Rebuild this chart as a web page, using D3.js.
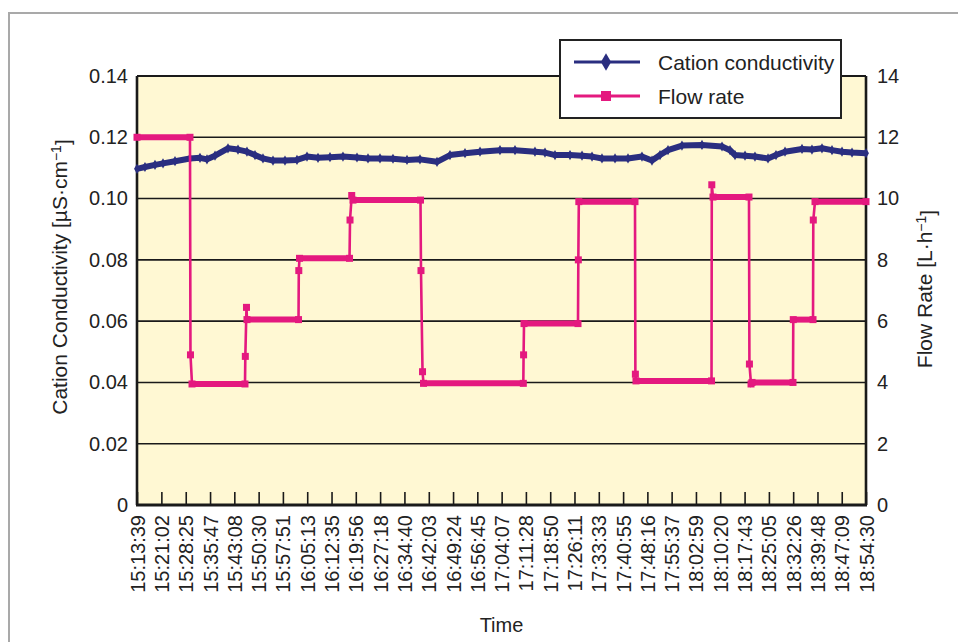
<!DOCTYPE html>
<html>
<head>
<meta charset="utf-8">
<script src="https://cdn.jsdelivr.net/npm/d3@7"></script>
<style>
  body { margin: 0; background: #fff; }
  svg { display: block; font-family: "Liberation Sans", Arial, sans-serif; }
</style>
</head>
<body>
<div id="chart"></div>
<script>
// Time axis labels (category ticks)
var tickLabels = ["15:13:39","15:21:02","15:28:25","15:35:47","15:43:08","15:50:30","15:57:51",
  "16:05:13","16:12:35","16:19:56","16:27:18","16:34:40","16:42:03","16:49:24","16:56:45",
  "17:04:07","17:11:28","17:18:50","17:26:11","17:33:33","17:40:55","17:48:16","17:55:37",
  "18:02:59","18:10:20","18:17:43","18:25:05","18:32:26","18:39:48","18:47:09","18:54:30"];

var condTicks = [0, 0.02, 0.04, 0.06, 0.08, 0.10, 0.12, 0.14];
var flowTicks = [0, 2, 4, 6, 8, 10, 12, 14];

// Cation conductivity [uS/cm]
var condTimes = ["15:13:39","15:16:04","15:19:06","15:21:32","15:25:10","15:29:42","15:32:44","15:34:51",
  "15:37:17","15:41:13","15:44:15","15:46:58","15:49:24","15:51:49","15:54:51","15:58:29","16:02:07",
  "16:05:09","16:08:29","16:12:07","16:16:03","16:20:18","16:23:38","16:27:16","16:31:12","16:35:27",
  "16:39:23","16:44:32","16:48:28","16:53:01","16:57:34","17:03:37","17:08:10","17:14:13","17:17:15",
  "17:20:17","17:24:50","17:28:28","17:31:30","17:34:31","17:38:28","17:42:24","17:46:38","17:49:40",
  "17:52:06","17:54:31","17:58:45","18:04:49","18:10:53","18:13:18","18:14:49","18:17:51","18:20:52",
  "18:24:49","18:27:14","18:29:58","18:35:07","18:38:08","18:41:10","18:44:12","18:47:14","18:50:16","18:54:30"];
var condValues = [0.1097,0.1103,0.1110,0.1115,0.1122,0.1131,0.1133,0.1128,
  0.1140,0.1164,0.1160,0.1153,0.1142,0.1131,0.1124,0.1124,0.1126,
  0.1137,0.1133,0.1135,0.1137,0.1134,0.1131,0.1131,0.1130,0.1126,
  0.1128,0.1120,0.1142,0.1148,0.1153,0.1158,0.1158,0.1153,0.1150,
  0.1142,0.1142,0.1140,0.1137,0.1131,0.1131,0.1131,0.1137,0.1124,
  0.1142,0.1158,0.1173,0.1175,0.1170,0.1158,0.1142,0.1140,0.1137,
  0.1131,0.1142,0.1153,0.1162,0.1160,0.1164,0.1158,0.1153,0.1150,0.1148];

// Flow rate [L/h]
var flowTimes = ["15:13:39","15:29:42","15:29:51","15:30:19","15:46:22","15:46:28","15:46:49","15:46:58",
  "16:02:35","16:02:40","16:02:53","16:18:02","16:18:11","16:18:42","16:19:05","16:39:32","16:39:41",
  "16:40:09","16:40:27","17:10:41","17:10:46","17:10:54","17:27:15","17:27:21","17:27:30","17:44:31",
  "17:44:38","17:44:49","18:07:42","18:07:47","18:08:09","18:19:03","18:19:11","18:19:40","18:19:58",
  "18:32:23","18:32:28","18:38:27","18:38:32","18:39:03","18:54:30"];
var flowValues = [12.0,12.0,4.9,3.95,3.95,4.85,6.45,6.05,
  6.05,7.65,8.05,8.05,9.3,10.1,9.95,9.95,7.65,
  4.35,3.97,3.97,4.9,5.92,5.92,8.0,9.9,9.9,
  4.27,4.05,4.05,10.45,10.05,10.05,4.6,3.95,4.0,
  4.0,6.05,6.05,9.3,9.9,9.9];

var legendNames = ["Cation conductivity", "Flow rate"];

var cfg = {
  width: 958, height: 642,
  left: 137, right: 866, top: 76, bottom: 505,
  navy: "#2a2e80",
  pink: "#e4197f",
  bg: "#fff8d3",
  font: 20
};

var parse = d3.timeParse("%H:%M:%S");
var tickTimes = tickLabels.map(parse);
var cond = condTimes.map(function(t, i) { return {t: parse(t), v: condValues[i]}; });
var flow = flowTimes.map(function(t, i) { return {t: parse(t), v: flowValues[i]}; });

var x = d3.scaleTime().domain([tickTimes[0], tickTimes[tickTimes.length - 1]]).range([cfg.left, cfg.right]);
var yC = d3.scaleLinear().domain([0, 0.14]).range([cfg.bottom, cfg.top]);
var yF = d3.scaleLinear().domain([0, 14]).range([cfg.bottom, cfg.top]);

var svg = d3.select("#chart").append("svg")
  .attr("width", cfg.width).attr("height", cfg.height);

// outer grey frame
svg.append("rect")
  .attr("x", 9).attr("y", 13).attr("width", 1000).attr("height", 700)
  .attr("fill", "none").attr("stroke", "#a9a9a9").attr("stroke-width", 2);

// plot background
svg.append("rect")
  .attr("x", cfg.left).attr("y", cfg.top)
  .attr("width", cfg.right - cfg.left).attr("height", cfg.bottom - cfg.top)
  .attr("fill", cfg.bg);

// grid lines
svg.append("g").selectAll("line")
  .data(condTicks.filter(function(d) { return d > 0 && d < 0.14; }))
  .enter().append("line")
  .attr("x1", cfg.left).attr("x2", cfg.right)
  .attr("y1", function(d) { return yC(d); }).attr("y2", function(d) { return yC(d); })
  .attr("stroke", "#1a1a1a").attr("stroke-width", 1.6);

// bottom axis, ticks pointing up into the plot
var xAxis = svg.append("g")
  .attr("transform", "translate(0," + cfg.bottom + ")")
  .call(d3.axisBottom(x).tickValues(tickTimes).tickSize(-13).tickFormat(d3.timeFormat("%H:%M:%S")));
xAxis.select(".domain").remove();
xAxis.selectAll(".tick line").attr("stroke", "#1a1a1a").attr("stroke-width", 1.6);
xAxis.selectAll(".tick text")
  .attr("transform", "translate(0,10) rotate(-90)")
  .attr("x", 0).attr("y", 0).attr("dy", "0.35em")
  .attr("text-anchor", "end")
  .style("font-size", cfg.font + "px").attr("fill", "#222");

// frame of the plot
svg.append("line").attr("x1", cfg.left).attr("x2", cfg.right).attr("y1", cfg.top).attr("y2", cfg.top)
  .attr("stroke", "#1a1a1a").attr("stroke-width", 2);
svg.append("line").attr("x1", cfg.left).attr("x2", cfg.left).attr("y1", cfg.top).attr("y2", cfg.bottom)
  .attr("stroke", "#1a1a1a").attr("stroke-width", 2.6);
svg.append("line").attr("x1", cfg.right).attr("x2", cfg.right).attr("y1", cfg.top).attr("y2", cfg.bottom)
  .attr("stroke", "#1a1a1a").attr("stroke-width", 2.6);
svg.append("line").attr("x1", cfg.left - 1).attr("x2", cfg.right + 1).attr("y1", cfg.bottom).attr("y2", cfg.bottom)
  .attr("stroke", "#1a1a1a").attr("stroke-width", 3.2);

// left and right axes (labels only)
var leftAxis = svg.append("g").attr("transform", "translate(" + cfg.left + ",0)")
  .call(d3.axisLeft(yC).tickValues(condTicks).tickSize(0).tickPadding(9)
    .tickFormat(function(d) { return d === 0 ? "0" : d.toFixed(2); }));
var rightAxis = svg.append("g").attr("transform", "translate(" + cfg.right + ",0)")
  .call(d3.axisRight(yF).tickValues(flowTicks).tickSize(0).tickPadding(11));
[leftAxis, rightAxis].forEach(function(a) {
  a.select(".domain").remove();
  a.selectAll("text").style("font-size", cfg.font + "px").attr("fill", "#222");
});

// conductivity series (dense markers make it look like a thick band)
var lineC = d3.line().x(function(d) { return x(d.t); }).y(function(d) { return yC(d.v); });
svg.append("path").datum(cond)
  .attr("d", lineC).attr("fill", "none")
  .attr("stroke", cfg.navy).attr("stroke-width", 6).attr("stroke-linejoin", "round");
svg.append("g").selectAll("path")
  .data(cond).enter().append("path")
  .attr("d", d3.symbol().type(d3.symbolDiamond).size(30))
  .attr("transform", function(d) { return "translate(" + x(d.t) + "," + yC(d.v) + ")"; })
  .attr("fill", cfg.navy);

// flow rate series
var lineF = d3.line().x(function(d) { return x(d.t); }).y(function(d) { return yF(d.v); });
svg.append("path").datum(flow)
  .attr("d", lineF).attr("fill", "none")
  .attr("stroke", cfg.pink).attr("stroke-width", 2.6);
// plateaus look thick (markers packed together)
var plateaus = d3.pairs(flow).filter(function(p) { return p[0].v === p[1].v; });
svg.append("g").selectAll("line")
  .data(plateaus).enter().append("line")
  .attr("x1", function(p) { return x(p[0].t); }).attr("x2", function(p) { return x(p[1].t); })
  .attr("y1", function(p) { return yF(p[0].v); }).attr("y2", function(p) { return yF(p[1].v); })
  .attr("stroke", cfg.pink).attr("stroke-width", 6);
svg.append("g").selectAll("rect")
  .data(flow).enter().append("rect")
  .attr("x", function(d) { return x(d.t) - 3.5; }).attr("y", function(d) { return yF(d.v) - 3.5; })
  .attr("width", 7).attr("height", 7)
  .attr("fill", cfg.pink);

// legend
var legend = svg.append("g").attr("transform", "translate(560,40)");
legend.append("rect").attr("width", 281).attr("height", 78)
  .attr("fill", "#fff").attr("stroke", "#222").attr("stroke-width", 2);
var items = legend.selectAll(".item").data(legendNames).enter().append("g")
  .attr("transform", function(d, i) { return "translate(0," + (22 + i * 34) + ")"; });
items.append("line").attr("x1", 14).attr("x2", 80)
  .attr("stroke", function(d, i) { return i === 0 ? cfg.navy : cfg.pink; })
  .attr("stroke-width", 3);
items.append("path")
  .attr("d", function(d, i) {
    return d3.symbol().type(i === 0 ? d3.symbolDiamond : d3.symbolSquare).size(i === 0 ? 90 : 100)();
  })
  .attr("transform", "translate(46,0)")
  .attr("fill", function(d, i) { return i === 0 ? cfg.navy : cfg.pink; });
items.append("text").attr("x", 98).attr("dy", "0.36em")
  .style("font-size", "21px").attr("fill", "#222")
  .text(function(d) { return d; });

// axis titles
var tl = svg.append("text")
  .attr("transform", "translate(67,277) rotate(-90)")
  .attr("text-anchor", "middle").style("font-size", "21px").attr("fill", "#222");
tl.append("tspan").text("Cation Conductivity [µS·cm");
tl.append("tspan").attr("dy", "-0.45em").style("font-size", "14px").text("−1");
tl.append("tspan").attr("dy", "0.45em").text("]");

var tr = svg.append("text")
  .attr("transform", "translate(932,289) rotate(-90)")
  .attr("text-anchor", "middle").style("font-size", "21px").attr("fill", "#222");
tr.append("tspan").text("Flow Rate [L·h");
tr.append("tspan").attr("dy", "-0.45em").style("font-size", "14px").text("−1");
tr.append("tspan").attr("dy", "0.45em").text("]");

svg.append("text")
  .attr("x", (cfg.left + cfg.right) / 2).attr("y", 632)
  .attr("text-anchor", "middle").style("font-size", "20px").attr("fill", "#222")
  .text("Time");
</script>
</body>
</html>
